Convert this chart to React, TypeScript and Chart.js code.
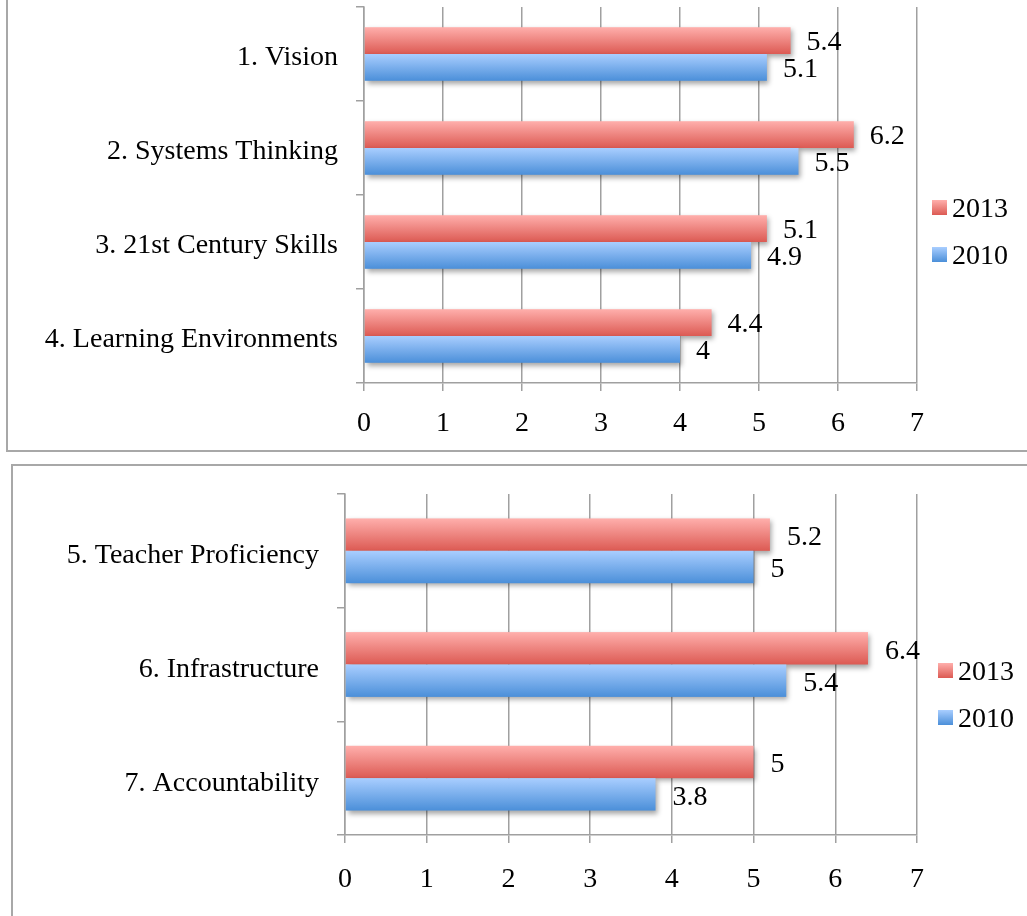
import React, { useEffect, useRef } from "react";
import { Chart, registerables } from "chart.js";

Chart.register(...registerables);

// Scores per area, two survey years
const topCategories = ["1. Vision", "2. Systems Thinking", "3. 21st Century Skills", "4. Learning Environments"];
const top2013 = [5.4, 6.2, 5.1, 4.4];
const top2010 = [5.1, 5.5, 4.9, 4];

const bottomCategories = ["5. Teacher Proficiency", "6. Infrastructure", "7. Accountability"];
const bottom2013 = [5.2, 6.4, 5];
const bottom2010 = [5, 5.4, 3.8];

const seriesLabels = ["2013", "2010"];
const xMin = 0;
const xMax = 7;

const FONT = "'Liberation Serif', 'DejaVu Serif', serif";
const GRID = "#A0A0A0";

const gradients = [
  { top: "#FFAFAC", bottom: "#DC5A53" },
  { top: "#A9CEFF", bottom: "#4B8FD9" },
];

type Layout = {
  axisWidth: number;
  axisHeight: number;
  padTop: number;
  padRight: number;
  fontSize: number;
  tickPad: number;
  labelGap: number;
  labelShift: number;
  categoryShift: number;
  legendX: number;
  legendY: number[];
};

// Bars with vertical gradient and a soft drop shadow, drawn top series first
const gradientBars = {
  id: "gradientBars",
  beforeDatasetsDraw(chart: any) {
    const ctx = chart.ctx;
    chart.data.datasets.forEach((_ds: any, i: number) => {
      const meta = chart.getDatasetMeta(i);
      if (!meta.visible) return;
      const g = gradients[i];
      meta.data.forEach((el: any) => {
        const { x, y, base, height } = el.getProps(["x", "y", "base", "height"], true);
        const top = y - height / 2;
        const grad = ctx.createLinearGradient(0, top, 0, top + height);
        grad.addColorStop(0, g.top);
        grad.addColorStop(1, g.bottom);
        ctx.save();
        ctx.shadowColor = "rgba(0,0,0,0.35)";
        ctx.shadowBlur = 5;
        ctx.shadowOffsetX = 2;
        ctx.shadowOffsetY = 3;
        ctx.fillStyle = grad;
        ctx.fillRect(Math.min(base, x), top, Math.abs(x - base), height);
        ctx.restore();
      });
    });
    return false;
  },
};

// Value labels beside bars, plus the stacked legend on the right
const labelsAndLegend = {
  id: "labelsAndLegend",
  afterDraw(chart: any) {
    const ctx = chart.ctx;
    const lay: Layout = chart.options.plugins.labelsAndLegend;
    ctx.save();
    ctx.font = `${lay.fontSize}px ${FONT}`;
    ctx.fillStyle = "#000";
    ctx.textAlign = "left";
    ctx.textBaseline = "middle";
    chart.data.datasets.forEach((ds: any, i: number) => {
      const meta = chart.getDatasetMeta(i);
      meta.data.forEach((el: any, j: number) => {
        const { x, y } = el.getProps(["x", "y"], true);
        ctx.fillText(String(ds.data[j]), x + lay.labelGap, y + lay.labelShift);
      });
    });
    chart.data.datasets.forEach((ds: any, i: number) => {
      const cy = lay.legendY[i];
      const g = gradients[i];
      const grad = ctx.createLinearGradient(0, cy - 10, 0, cy + 5);
      grad.addColorStop(0, g.top);
      grad.addColorStop(1, g.bottom);
      ctx.fillStyle = grad;
      ctx.fillRect(lay.legendX, cy - 10, 15, 15);
      ctx.fillStyle = "#000";
      ctx.fillText(ds.label, lay.legendX + 20, cy);
    });
    ctx.restore();
  },
};

function makeConfig(categories: string[], v2013: number[], v2010: number[], lay: Layout): any {
  return {
    type: "bar",
    data: {
      labels: categories,
      datasets: [
        { label: seriesLabels[0], data: v2013, backgroundColor: gradients[0].bottom },
        { label: seriesLabels[1], data: v2010, backgroundColor: gradients[1].bottom },
      ],
    },
    options: {
      indexAxis: "y",
      responsive: false,
      animation: false,
      events: [],
      categoryPercentage: 0.57,
      barPercentage: 1,
      layout: { padding: { top: lay.padTop, right: lay.padRight, left: 0, bottom: 0 } },
      plugins: {
        legend: { display: false },
        tooltip: { enabled: false },
        labelsAndLegend: lay,
      },
      scales: {
        x: {
          min: xMin,
          max: xMax,
          ticks: {
            stepSize: 1,
            color: "#000",
            padding: lay.tickPad,
            font: { family: FONT, size: lay.fontSize },
          },
          grid: { color: GRID, lineWidth: 1.5, tickLength: 8, drawOnChartArea: true },
          border: { color: GRID, width: 1.5 },
          afterFit(scale: any) {
            scale.height = lay.axisHeight;
            scale.paddingLeft = 0;
            scale.paddingRight = 0;
          },
        },
        y: {
          ticks: {
            color: "#000",
            padding: 18,
            labelOffset: lay.categoryShift,
            font: { family: FONT, size: lay.fontSize },
          },
          grid: { color: GRID, lineWidth: 1.5, tickLength: 8, drawOnChartArea: false, offset: true },
          border: { color: GRID, width: 1.5 },
          afterFit(scale: any) {
            scale.width = lay.axisWidth;
            scale.paddingTop = 0;
            scale.paddingBottom = 0;
          },
        },
      },
    },
    plugins: [gradientBars, labelsAndLegend],
  };
}

function BarPanel(props: {
  categories: string[];
  v2013: number[];
  v2010: number[];
  lay: Layout;
  width: number;
  height: number;
}) {
  const ref = useRef<HTMLCanvasElement | null>(null);
  useEffect(() => {
    if (!ref.current) return;
    const chart = new Chart(ref.current, makeConfig(props.categories, props.v2013, props.v2010, props.lay));
    return () => chart.destroy();
  }, []);
  return <canvas ref={ref} width={props.width} height={props.height} style={{ display: "block" }} />;
}

export default function App() {
  const topLayout: Layout = {
    axisWidth: 364,
    axisHeight: 72,
    padTop: 7,
    padRight: 110,
    fontSize: 28,
    tickPad: 16,
    labelGap: 16,
    labelShift: 2,
    categoryShift: 4,
    legendX: 932,
    legendY: [210, 257],
  };
  const bottomLayout: Layout = {
    axisWidth: 345,
    axisHeight: 81,
    padTop: 39,
    padRight: 110,
    fontSize: 28,
    tickPad: 20,
    labelGap: 17,
    labelShift: 3,
    categoryShift: 5,
    legendX: 938,
    legendY: [218, 265],
  };
  return (
    <div style={{ position: "fixed", left: 0, top: 0, width: 1027, height: 916, background: "#fff", overflow: "hidden" }}>
      <div style={{ position: "absolute", left: 0, top: 0 }}>
        <BarPanel categories={topCategories} v2013={top2013} v2010={top2010} lay={topLayout} width={1027} height={455} />
      </div>
      <div style={{ position: "absolute", left: 0, top: 455 }}>
        <BarPanel categories={bottomCategories} v2013={bottom2013} v2010={bottom2010} lay={bottomLayout} width={1027} height={461} />
      </div>
      <div style={{ position: "absolute", left: 6, top: -4, width: 1040, height: 456, border: "2px solid #A8A8A8", boxSizing: "border-box" }} />
      <div style={{ position: "absolute", left: 11, top: 464, width: 1040, height: 470, border: "2px solid #A8A8A8", boxSizing: "border-box" }} />
    </div>
  );
}
